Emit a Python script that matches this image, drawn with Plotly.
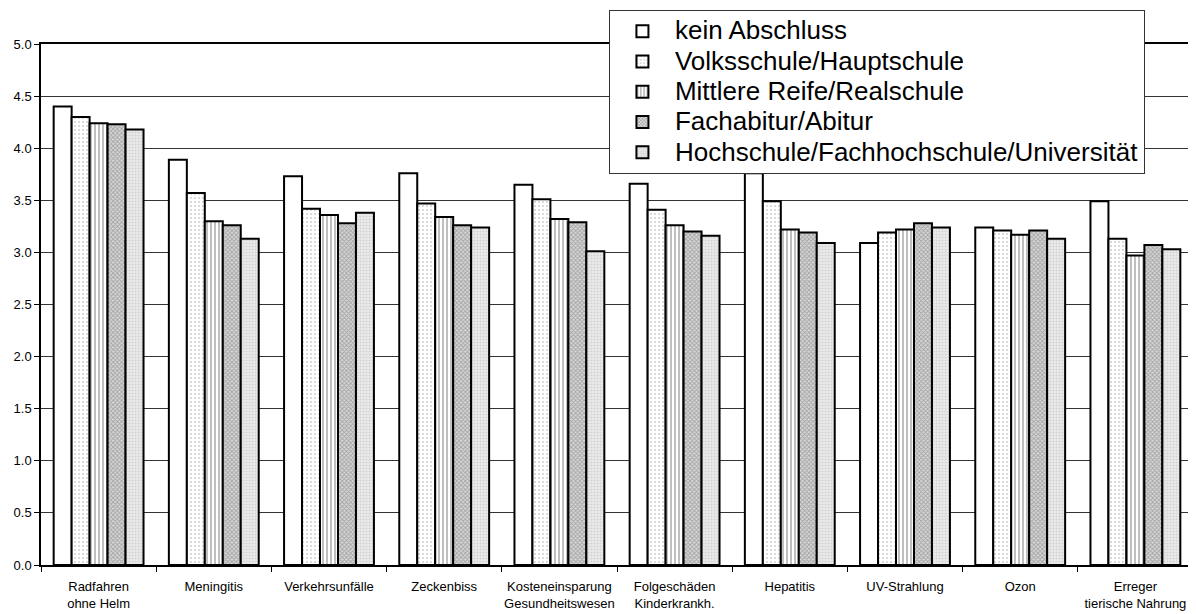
import plotly.graph_objects as go

categories = ["Radfahren<br>ohne Helm", "Meningitis", "Verkehrsunfälle", "Zeckenbiss",
              "Kosteneinsparung<br>Gesundheitswesen", "Folgeschäden<br>Kinderkrankh.",
              "Hepatitis", "UV-Strahlung", "Ozon", "Erreger<br>tierische Nahrung"]

series_names = ["kein Abschluss", "Volksschule/Hauptschule", "Mittlere Reife/Realschule",
                "Fachabitur/Abitur", "Hochschule/Fachhochschule/Universität"]

kein_abschluss = [4.40, 3.89, 3.73, 3.76, 3.65, 3.66, 3.76, 3.09, 3.24, 3.49]
volksschule = [4.30, 3.57, 3.42, 3.47, 3.51, 3.41, 3.49, 3.19, 3.21, 3.13]
mittlere_reife = [4.24, 3.30, 3.36, 3.34, 3.32, 3.26, 3.22, 3.22, 3.17, 2.97]
abitur = [4.23, 3.26, 3.28, 3.26, 3.29, 3.20, 3.19, 3.28, 3.21, 3.07]
hochschule = [4.18, 3.13, 3.38, 3.24, 3.01, 3.16, 3.09, 3.24, 3.13, 3.03]

y_ticks = [0.0, 0.5, 1.0, 1.5, 2.0, 2.5, 3.0, 3.5, 4.0, 4.5, 5.0]

values = [kein_abschluss, volksschule, mittlere_reife, abitur, hochschule]

styles = [
    dict(color="white", pattern=None),
    dict(color="white", pattern=dict(shape=".", fgcolor="#a0a0a0", size=4, solidity=0.2)),
    dict(color="white", pattern=dict(shape="|", fgcolor="#808080", size=4, solidity=0.5)),
    dict(color="#d8d8d8", pattern=dict(shape="x", fgcolor="#707070", size=3, solidity=0.5)),
    dict(color="#ececec", pattern=dict(shape=".", fgcolor="#b8b8b8", size=3, solidity=0.4)),
]

fig = go.Figure()
for name, vals, st in zip(series_names, values, styles):
    marker = dict(color=st["color"], line=dict(color="black", width=2))
    if st["pattern"]:
        marker["pattern"] = st["pattern"]
    fig.add_trace(go.Bar(x=categories, y=vals,
                         name=f'<span style="font-size:26px">{name}</span>',
                         marker=marker))

# page body has an 8px margin; figure sized so it ends at the window edge
fig.update_layout(
    width=1188, height=606,
    margin=dict(l=33, r=3, t=36, b=49, autoexpand=False),
    paper_bgcolor="white", plot_bgcolor="white",
    barmode="group", bargap=0.22, bargroupgap=0,
    font=dict(family="Liberation Sans, Arial, sans-serif", color="black", size=13),
    showlegend=True,
    legend=dict(x=0.493, y=1.0653, xanchor="left", yanchor="top",
                bgcolor="white", bordercolor="#333", borderwidth=1,
                font=dict(size=21), tracegroupgap=0, itemwidth=55),
)
fig.update_xaxes(type="category", showline=True, linecolor="black", linewidth=1.5, mirror=True,
                 ticks="outside", tickson="boundaries", ticklen=5, tickcolor="black",
                 tickfont=dict(size=13), tickangle=0, ticklabelstandoff=9)
fig.update_yaxes(range=[0, 5], tickvals=y_ticks, tickformat=".1f", showgrid=True,
                 gridcolor="#333", gridwidth=1, showline=True, linecolor="black", linewidth=1.5,
                 mirror=True, ticks="outside", ticklen=5, tickcolor="black",
                 tickfont=dict(size=13), zeroline=False)

fig.write_html("out.html")
